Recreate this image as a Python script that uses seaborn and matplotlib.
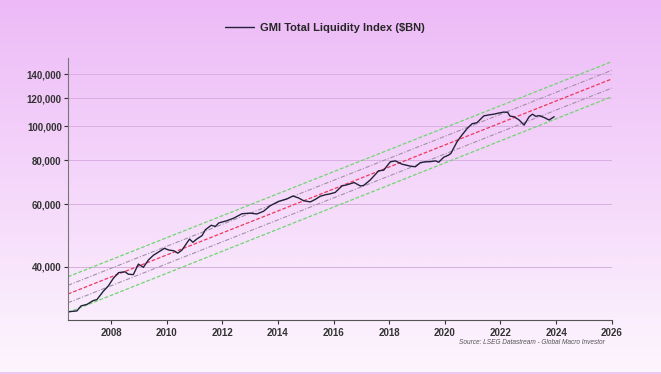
import numpy as np
import pandas as pd
import seaborn as sns
import matplotlib.pyplot as plt
from matplotlib.lines import Line2D

# GMI total liquidity index ($BN), decimal years
years = [2006.49, 2006.77, 2006.92, 2007.13, 2007.36, 2007.49, 2007.72, 2007.90,
         2008.08, 2008.27, 2008.50, 2008.62, 2008.80, 2008.98, 2009.16, 2009.34,
         2009.52, 2009.70, 2009.92, 2010.07, 2010.25, 2010.40, 2010.55, 2010.82,
         2010.94, 2011.08, 2011.27, 2011.39, 2011.60, 2011.75, 2011.87, 2012.17,
         2012.41, 2012.71, 2013.00, 2013.24, 2013.48, 2013.72, 2014.02, 2014.32,
         2014.54, 2014.74, 2014.92, 2015.16, 2015.34, 2015.52, 2015.70, 2015.88,
         2016.06, 2016.30, 2016.48, 2016.74, 2016.96, 2017.08, 2017.32, 2017.62,
         2017.80, 2018.04, 2018.22, 2018.46, 2018.76, 2018.94, 2019.12, 2019.30,
         2019.48, 2019.66, 2019.78, 2019.96, 2020.14, 2020.22, 2020.44, 2020.62,
         2020.80, 2020.98, 2021.16, 2021.28, 2021.40, 2021.58, 2021.76, 2021.94,
         2022.12, 2022.26, 2022.34, 2022.49, 2022.67, 2022.85, 2023.03, 2023.15,
         2023.27, 2023.39, 2023.57, 2023.75, 2023.83, 2023.93]
liquidity = [29850, 30000, 31000, 31300, 32100, 32300, 34100, 35300,
             37100, 38500, 38700, 38100, 38000, 40700, 39850, 41800,
             43100, 44000, 45100, 44600, 44400, 43700, 44600, 47900,
             46900, 47900, 49000, 50900, 52400, 52000, 53200, 54000,
             54900, 56500, 56700, 56400, 57400, 59500, 61200, 62200,
             63400, 62600, 61500, 61000, 62000, 63300, 63900, 64300,
             64900, 67700, 68200, 69200, 67700, 67900, 70400, 74700,
             75000, 79200, 79700, 78000, 77000, 76700, 78800, 79200,
             79300, 79700, 79000, 81600, 82800, 83700, 90300, 94400,
             98300, 101500, 102200, 104500, 106800, 107500, 108000, 108800,
             109500, 109300, 106700, 106200, 104000, 100600, 106200, 108000,
             106500, 107000, 105700, 104000, 105000, 106200]

# trend channel end points (log-linear trend and +/- 1 and 2 std bands)
trend_years = [2006.45, 2026.0]
trend_mid = [33500, 135800]
trend_up1 = [35440, 143700]
trend_lo1 = [31640, 128000]
trend_up2 = [37480, 152000]
trend_lo2 = [29700, 121000]

y_ticks = [40000, 60000, 80000, 100000, 120000, 140000]
x_ticks = [2008, 2010, 2012, 2014, 2016, 2018, 2020, 2022, 2024, 2026]

df = pd.DataFrame({'year': years, 'liquidity': liquidity})

sns.set_style('ticks')
plt.rcParams['font.family'] = ['Liberation Sans Narrow', 'Liberation Sans', 'DejaVu Sans']

fig = plt.figure(figsize=(6.61, 3.74), dpi=100)

# pink gradient background
bg = fig.add_axes([0, 0, 1, 1], zorder=-10)
top = np.array([237, 186, 247]) / 255
bot = np.array([253, 246, 254]) / 255
t = np.linspace(0, 1, 256)[:, None]
grad = (top * (1 - t) + bot * t)[:, None, :]
bg.imshow(grad, aspect='auto', extent=[0, 1, 0, 1])
bg.axhline(0.003, color='#ecc8f2', lw=1.5)
bg.set_xlim(0, 1)
bg.set_ylim(0, 1)
bg.axis('off')

ax = fig.add_axes([68 / 661, 54 / 374, (611.7 - 68) / 661, 262 / 374])
ax.set_facecolor('none')
ax.set_yscale('log')

for yt in y_ticks:
    ax.axhline(yt, color='#d9aee2', lw=0.7, zorder=0)

ax.plot(trend_years, trend_up2, color='#6fd66f', lw=0.9, ls=(0, (3, 1.5)))
ax.plot(trend_years, trend_lo2, color='#6fd66f', lw=0.9, ls=(0, (3, 1.5)))
ax.plot(trend_years, trend_up1, color='#a38fa8', lw=0.8, ls=(0, (4, 1.5, 1, 1.5)))
ax.plot(trend_years, trend_lo1, color='#a38fa8', lw=0.8, ls=(0, (4, 1.5, 1, 1.5)))
ax.plot(trend_years, trend_mid, color='#f0365a', lw=0.9, ls=(0, (3, 1.5)))

sns.lineplot(data=df, x='year', y='liquidity', color='#23213a', lw=1.0, ax=ax)

ax.set_xlim(2006.45, 2026)
ax.set_ylim(28280, 155700)
ax.set_xticks(x_ticks)
ax.set_xticklabels([str(x) for x in x_ticks])
ax.set_yticks(y_ticks)
ax.set_yticklabels([f'{v:,}' for v in y_ticks])
ax.minorticks_off()
ax.tick_params(labelsize=7, colors='#333333', length=3, width=0.8)
ax.tick_params(axis='y', pad=1.5)
ax.tick_params(axis='x', pad=2.5)
for lab in ax.get_xticklabels() + ax.get_yticklabels():
    lab.set_fontweight('bold')
ax.set_xlabel('')
ax.set_ylabel('')
sns.despine(ax=ax)
ax.spines['left'].set_color('#777777')
ax.spines['bottom'].set_color('#555555')

handle = Line2D([], [], color='#23213a', lw=1.0)
fig.legend([handle], ['GMI Total Liquidity Index ($BN)'], loc='center',
           bbox_to_anchor=(325 / 661, 1 - 28 / 374), frameon=False,
           handlelength=2.6, handletextpad=0.5, prop={'size': 8, 'weight': 'bold'})

fig.text(605 / 661, 1 - 342 / 374, 'Source: LSEG Datastream - Global Macro Investor',
         ha='right', va='center', fontsize=4.7, style='italic', color='#555555')

fig.savefig('out.png', dpi=100)
